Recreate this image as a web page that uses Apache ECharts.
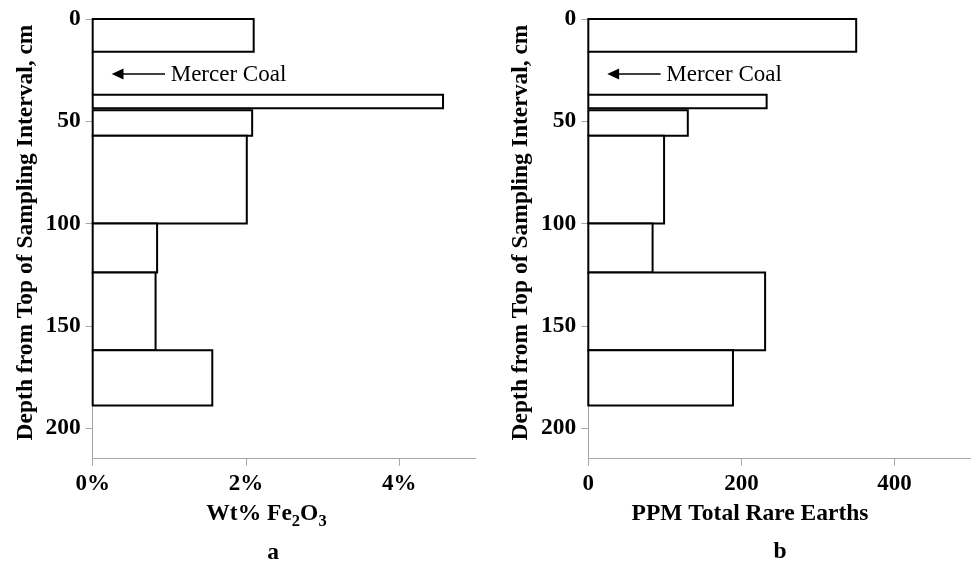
<!DOCTYPE html>
<html lang="en">
<head>
    <meta charset="UTF-8">
    <title>Depth profiles</title>
    <script type="text/javascript" src="https://cdn.jsdelivr.net/npm/echarts@6.0.0/dist/echarts.min.js"></script>
    <style>
        html, body { margin: 0; padding: 0; background: #fff; }
    </style>
</head>
<body>
<div id="main" style="width:971px; height:564px;"></div>
<script>
    // sampling intervals (cm from top)
    var depthTop = [0, 16, 37, 44.6, 57.1, 100, 124, 162];
    var depthBottom = [16, 37, 43.7, 57.1, 100, 124, 162, 189];
    // values per interval (coal interval has no value)
    var fe2o3Pct = [2.10, 0, 4.57, 2.08, 2.01, 0.84, 0.82, 1.56];
    var rareEarthPpm = [350, 0, 233, 130, 99, 84, 231, 189];
    // tick labels
    var depthTicks = [0, 50, 100, 150, 200];
    var feTicks = [0, 2, 4];
    var reeTicks = [0, 200, 400];

    var serif = '"Liberation Serif", "Times New Roman", serif';
    var axisGray = '#a6a6a6';

    function toData(values) {
        var out = [];
        for (var i = 0; i < values.length; i++) {
            out.push([values[i], depthTop[i], depthBottom[i]]);
        }
        return out;
    }

    function renderBar(params, api) {
        var p0 = api.coord([0, api.value(1)]);
        var p1 = api.coord([api.value(0), api.value(2)]);
        return {
            type: 'rect',
            shape: { x: p0[0], y: p0[1], width: p1[0] - p0[0], height: p1[1] - p0[1] },
            style: { fill: '#fff', stroke: '#000', lineWidth: 2 }
        };
    }

    function yAxisOpt(idx) {
        return {
            type: 'value', gridIndex: idx, inverse: true,
            min: 0, max: 215, interval: 50,
            axisLine: { show: true, onZero: false, lineStyle: { color: axisGray, width: 1 } },
            axisTick: { show: true, length: 7, lineStyle: { color: axisGray }, customValues: depthTicks },
            axisLabel: { customValues: depthTicks, margin: 12, color: '#000', fontFamily: serif, fontWeight: 'bold', fontSize: 23.5 },
            splitLine: { show: false }
        };
    }

    function xAxisOpt(idx, max, interval, ticks, fmt) {
        return {
            type: 'value', gridIndex: idx, position: 'bottom',
            min: 0, max: max, interval: interval,
            axisLine: { show: true, onZero: false, lineStyle: { color: axisGray, width: 1 } },
            axisTick: { show: true, length: 7, lineStyle: { color: axisGray }, customValues: ticks },
            axisLabel: { customValues: ticks, formatter: fmt, margin: 14, color: '#000', fontFamily: serif, fontWeight: 'bold', fontSize: 23 },
            splitLine: { show: false }
        };
    }

    var panelShift = 495.6;

    function coalNote(dx) {
        return [
            { type: 'line', x: dx, shape: { x1: 123, y1: 74, x2: 165, y2: 74 }, style: { stroke: '#000', lineWidth: 1.3 } },
            { type: 'polygon', x: dx, shape: { points: [[111.7, 74], [123.5, 68.5], [123.5, 79.5]] }, style: { fill: '#000' } },
            { type: 'text', x: 170.7 + dx, y: 75, style: { text: 'Mercer Coal', fill: '#000', fontFamily: serif, fontSize: 23, align: 'left', verticalAlign: 'middle', textAlign: 'left', textVerticalAlign: 'middle' } }
        ];
    }

    function boldText(txt, x, y, rot) {
        return {
            type: 'text', x: x, y: y, rotation: rot || 0,
            style: {
                text: txt, fill: '#000', fontFamily: serif, fontWeight: 'bold', fontSize: 23.5,
                align: 'center', verticalAlign: 'middle', textAlign: 'center', textVerticalAlign: 'middle',
                lineHeight: 33,
                rich: {
                    s: { fontSize: 16.5, lineHeight: 16.5, verticalAlign: 'bottom', fontFamily: serif, fontWeight: 'bold', fill: '#000' }
                }
            }
        };
    }

    var chart = echarts.init(document.getElementById('main'));
    var option = {
        backgroundColor: '#fff',
        animation: false,
        grid: [
            { left: 92.7, top: 19, width: 383.3, height: 439.7, outerBoundsMode: 'none' },
            { left: 588.3, top: 19, width: 382.7, height: 439.7, outerBoundsMode: 'none' }
        ],
        xAxis: [
            xAxisOpt(0, 5, 2, feTicks, '{value}%'),
            xAxisOpt(1, 500, 200, reeTicks, '{value}')
        ],
        yAxis: [yAxisOpt(0), yAxisOpt(1)],
        series: [
            { type: 'custom', xAxisIndex: 0, yAxisIndex: 0, renderItem: renderBar, encode: { x: 0, y: [1, 2] }, data: toData(fe2o3Pct) },
            { type: 'custom', xAxisIndex: 1, yAxisIndex: 1, renderItem: renderBar, encode: { x: 0, y: [1, 2] }, data: toData(rareEarthPpm) }
        ],
        graphic: [].concat(
            coalNote(0),
            coalNote(panelShift),
            [
                boldText('Depth from Top of Sampling Interval, cm', 25.6, 232.5, Math.PI / 2),
                boldText('Depth from Top of Sampling Interval, cm', 25.6 + panelShift, 232.5, Math.PI / 2),
                boldText('Wt% Fe{s|2}O{s|3}', 266.5, 514),
                boldText('PPM Total Rare Earths', 750, 514),
                boldText('a', 273, 552.5),
                boldText('b', 780, 552)
            ]
        )
    };
    chart.setOption(option);
</script>
</body>
</html>
